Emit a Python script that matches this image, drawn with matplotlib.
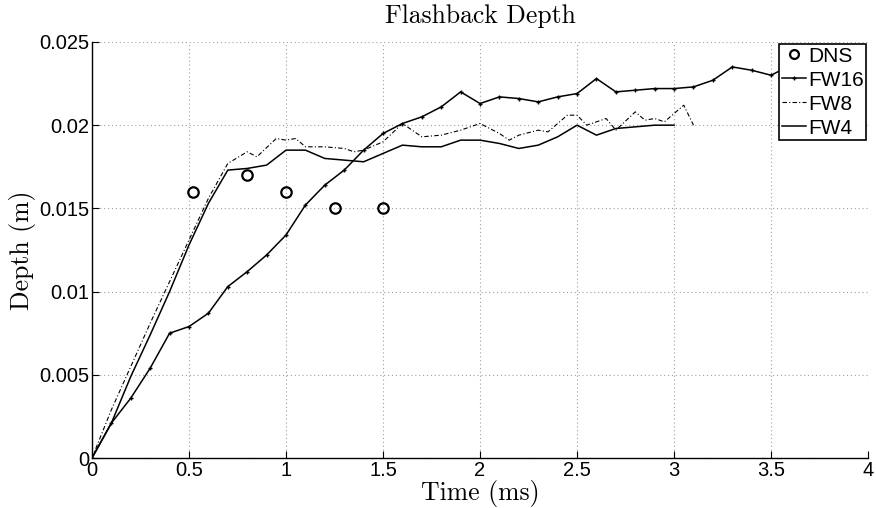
import matplotlib
matplotlib.use("Agg")
import matplotlib.pyplot as plt
from matplotlib.ticker import FixedLocator, FuncFormatter

# DNS reference points
dns_t = [0.52, 0.80, 1.00, 1.25, 1.50]
dns_depth = [0.0160, 0.0170, 0.0160, 0.0150, 0.0150]

# FW16 run, sampled every 0.1 ms
fw16_t = [0.0, 0.1, 0.2, 0.3, 0.4, 0.5, 0.6, 0.7, 0.8, 0.9, 1.0, 1.1, 1.2,
          1.3, 1.4, 1.5, 1.6, 1.7, 1.8, 1.9, 2.0, 2.1, 2.2, 2.3, 2.4, 2.5,
          2.6, 2.7, 2.8, 2.9, 3.0, 3.1, 3.2, 3.3, 3.4, 3.5, 3.6]
fw16_depth = [0.0, 0.0021, 0.0036, 0.0054, 0.0075, 0.0079, 0.0087, 0.0103,
              0.0112, 0.0122, 0.0134, 0.0152, 0.0164, 0.0173, 0.0185, 0.0195,
              0.0201, 0.0205, 0.0211, 0.0220, 0.0213, 0.0217, 0.0216, 0.0214,
              0.0217, 0.0219, 0.0228, 0.0220, 0.0221, 0.0222, 0.0222, 0.0223,
              0.0227, 0.0235, 0.0233, 0.0230, 0.0236]

# FW8 run
fw8_t = [0.0, 0.1, 0.2, 0.3, 0.4, 0.5, 0.6, 0.7, 0.8, 0.85, 0.95, 1.0, 1.05,
         1.1, 1.2, 1.3, 1.35, 1.4, 1.5, 1.6, 1.7, 1.8, 1.9, 2.0, 2.1, 2.15,
         2.2, 2.3, 2.35, 2.45, 2.5, 2.55, 2.65, 2.7, 2.8, 2.85, 2.9, 2.95,
         3.05, 3.1]
fw8_depth = [0.0, 0.0029, 0.0055, 0.0081, 0.0106, 0.0131, 0.0156, 0.0177,
             0.0184, 0.0181, 0.0192, 0.0191, 0.0192, 0.0187, 0.0187, 0.0186,
             0.0184, 0.0185, 0.0190, 0.0201, 0.0193, 0.0194, 0.0197, 0.0201,
             0.0195, 0.0191, 0.0194, 0.0197, 0.0196, 0.0206, 0.0206, 0.0200,
             0.0204, 0.0197, 0.0208, 0.0203, 0.0204, 0.0202, 0.0212, 0.0200]

# FW4 run, sampled every 0.1 ms
fw4_t = [0.0, 0.1, 0.2, 0.3, 0.4, 0.5, 0.6, 0.7, 0.8, 0.9, 1.0, 1.1, 1.2,
         1.3, 1.4, 1.5, 1.6, 1.7, 1.8, 1.9, 2.0, 2.1, 2.2, 2.3, 2.4, 2.5,
         2.6, 2.7, 2.8, 2.9, 3.0]
fw4_depth = [0.0, 0.0021, 0.0049, 0.0074, 0.0100, 0.0128, 0.0153, 0.0173,
             0.0174, 0.0176, 0.0185, 0.0185, 0.0180, 0.0179, 0.0178, 0.0183,
             0.0188, 0.0187, 0.0187, 0.0191, 0.0191, 0.0189, 0.0186, 0.0188,
             0.0193, 0.0200, 0.0194, 0.0198, 0.0199, 0.0200, 0.0200]

x_ticks = [0, 0.5, 1, 1.5, 2, 2.5, 3, 3.5, 4]
y_ticks = [0, 0.005, 0.01, 0.015, 0.02, 0.025]

plt.rcParams['font.family'] = ['Liberation Sans', 'DejaVu Sans']

fig = plt.figure(figsize=(8.76, 5.08), dpi=100)
ax = fig.add_axes([0.105, 0.0984, 0.886, 0.819])

ax.plot(dns_t, dns_depth, 'o', color='k', markerfacecolor='none',
        markersize=7.5, markeredgewidth=1.6, label='DNS', zorder=5)
ax.plot(fw16_t, fw16_depth, '-', color='k', lw=1.1, marker='+',
        markersize=3.5, markeredgewidth=1.0, label='FW16')
ax.plot(fw8_t, fw8_depth, color='k', lw=0.8, linestyle=(0, (4, 2, 1, 2)),
        label='FW8')
ax.plot(fw4_t, fw4_depth, '-', color='k', lw=1.1, label='FW4')

ax.set_xlim(0, 4)
ax.set_ylim(0, 0.025)
ax.xaxis.set_major_locator(FixedLocator(x_ticks))
ax.yaxis.set_major_locator(FixedLocator(y_ticks))
ax.xaxis.set_major_formatter(FuncFormatter(lambda v, p: '%g' % v))
ax.yaxis.set_major_formatter(FuncFormatter(lambda v, p: '%g' % v))
ax.tick_params(direction='in', length=5, width=0.8, labelsize=14.5,
               top=False, right=False, pad=2)

ax.grid(True, linestyle=(0, (1, 2.5)), color='#a0a0a0', lw=0.8)
ax.spines['top'].set_visible(False)
ax.spines['right'].set_visible(False)
ax.spines['left'].set_linewidth(1.0)
ax.spines['bottom'].set_linewidth(1.0)

ax.set_title('Flashback Depth', fontname='cmr10', fontsize=18.5, pad=14)
ax.set_xlabel('Time (ms)', fontname='cmr10', fontsize=18.5, labelpad=0.5)
ax.set_ylabel('Depth (m)', fontname='cmr10', fontsize=18.5, labelpad=2)

leg = ax.legend(loc='upper right', fontsize=15, handlelength=1.15,
                handletextpad=0.1, borderpad=0.12, labelspacing=0.24,
                borderaxespad=0.1, fancybox=False, framealpha=1,
                edgecolor='k', markerscale=0.85)
leg.get_frame().set_linewidth(1.2)

fig.savefig('out.png', dpi=100)
